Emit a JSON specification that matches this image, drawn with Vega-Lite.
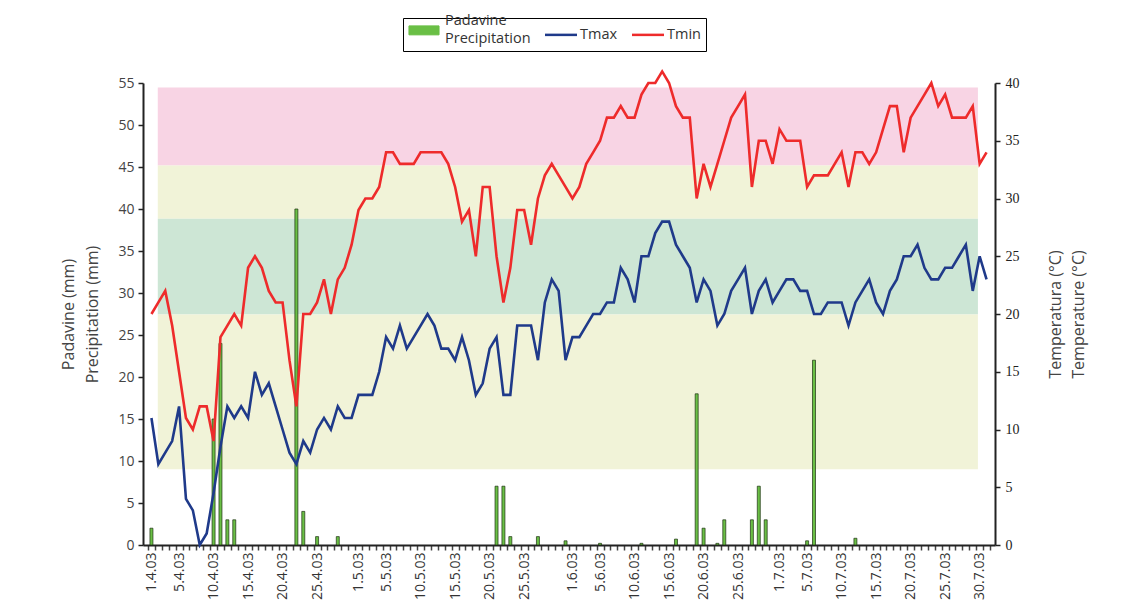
{
  "$schema": "https://vega.github.io/schema/vega-lite/v6.json",
  "width": 852,
  "height": 462,
  "autosize": "none",
  "padding": {"left": 143, "top": 83, "right": 143, "bottom": 63},
  "background": "white",
  "config": {"view": {"stroke": null}, "font": "Open Sans"},
  "datasets": {
    "bands": [
      {"d": "2003-04-02T10:00:00Z", "d2": "2003-07-30T06:00:00Z", "lo": 32.85, "hi": 39.6, "zone": "pink"},
      {"d": "2003-04-02T10:00:00Z", "d2": "2003-07-30T06:00:00Z", "lo": 28.25, "hi": 32.85, "zone": "yellow"},
      {"d": "2003-04-02T10:00:00Z", "d2": "2003-07-30T06:00:00Z", "lo": 19.95, "hi": 28.25, "zone": "green"},
      {"d": "2003-04-02T10:00:00Z", "d2": "2003-07-30T06:00:00Z", "lo": 6.55, "hi": 19.95, "zone": "yellow"}
    ],
    "days": [
      {"d": "2003-04-01T12:00:00Z", "p": 2, "Tmax": 11, "Tmin": 20},
      {"d": "2003-04-02T12:00:00Z", "p": 0, "Tmax": 7, "Tmin": 21},
      {"d": "2003-04-03T12:00:00Z", "p": 0, "Tmax": 8, "Tmin": 22},
      {"d": "2003-04-04T12:00:00Z", "p": 0, "Tmax": 9, "Tmin": 19},
      {"d": "2003-04-05T12:00:00Z", "p": 0, "Tmax": 12, "Tmin": 15},
      {"d": "2003-04-06T12:00:00Z", "p": 0, "Tmax": 4, "Tmin": 11},
      {"d": "2003-04-07T12:00:00Z", "p": 0, "Tmax": 3, "Tmin": 10},
      {"d": "2003-04-08T12:00:00Z", "p": 0, "Tmax": 0, "Tmin": 12},
      {"d": "2003-04-09T12:00:00Z", "p": 0, "Tmax": 1, "Tmin": 12},
      {"d": "2003-04-10T12:00:00Z", "p": 15, "Tmax": 4.5, "Tmin": 9},
      {"d": "2003-04-11T12:00:00Z", "p": 24, "Tmax": 8.5, "Tmin": 18},
      {"d": "2003-04-12T12:00:00Z", "p": 3, "Tmax": 12, "Tmin": 19},
      {"d": "2003-04-13T12:00:00Z", "p": 3, "Tmax": 11, "Tmin": 20},
      {"d": "2003-04-14T12:00:00Z", "p": 0, "Tmax": 12, "Tmin": 19},
      {"d": "2003-04-15T12:00:00Z", "p": 0, "Tmax": 11, "Tmin": 24},
      {"d": "2003-04-16T12:00:00Z", "p": 0, "Tmax": 15, "Tmin": 25},
      {"d": "2003-04-17T12:00:00Z", "p": 0, "Tmax": 13, "Tmin": 24},
      {"d": "2003-04-18T12:00:00Z", "p": 0, "Tmax": 14, "Tmin": 22},
      {"d": "2003-04-19T12:00:00Z", "p": 0, "Tmax": 12, "Tmin": 21},
      {"d": "2003-04-20T12:00:00Z", "p": 0, "Tmax": 10, "Tmin": 21},
      {"d": "2003-04-21T12:00:00Z", "p": 0, "Tmax": 8, "Tmin": 16},
      {"d": "2003-04-22T12:00:00Z", "p": 40, "Tmax": 7, "Tmin": 12},
      {"d": "2003-04-23T12:00:00Z", "p": 4, "Tmax": 9, "Tmin": 20},
      {"d": "2003-04-24T12:00:00Z", "p": 0, "Tmax": 8, "Tmin": 20},
      {"d": "2003-04-25T12:00:00Z", "p": 1, "Tmax": 10, "Tmin": 21},
      {"d": "2003-04-26T12:00:00Z", "p": 0, "Tmax": 11, "Tmin": 23},
      {"d": "2003-04-27T12:00:00Z", "p": 0, "Tmax": 10, "Tmin": 20},
      {"d": "2003-04-28T12:00:00Z", "p": 1, "Tmax": 12, "Tmin": 23},
      {"d": "2003-04-29T12:00:00Z", "p": 0, "Tmax": 11, "Tmin": 24},
      {"d": "2003-04-30T12:00:00Z", "p": 0, "Tmax": 11, "Tmin": 26},
      {"d": "2003-05-01T12:00:00Z", "p": 0, "Tmax": 13, "Tmin": 29},
      {"d": "2003-05-02T12:00:00Z", "p": 0, "Tmax": 13, "Tmin": 30},
      {"d": "2003-05-03T12:00:00Z", "p": 0, "Tmax": 13, "Tmin": 30},
      {"d": "2003-05-04T12:00:00Z", "p": 0, "Tmax": 15, "Tmin": 31},
      {"d": "2003-05-05T12:00:00Z", "p": 0, "Tmax": 18, "Tmin": 34},
      {"d": "2003-05-06T12:00:00Z", "p": 0, "Tmax": 17, "Tmin": 34},
      {"d": "2003-05-07T12:00:00Z", "p": 0, "Tmax": 19, "Tmin": 33},
      {"d": "2003-05-08T12:00:00Z", "p": 0, "Tmax": 17, "Tmin": 33},
      {"d": "2003-05-09T12:00:00Z", "p": 0, "Tmax": 18, "Tmin": 33},
      {"d": "2003-05-10T12:00:00Z", "p": 0, "Tmax": 19, "Tmin": 34},
      {"d": "2003-05-11T12:00:00Z", "p": 0, "Tmax": 20, "Tmin": 34},
      {"d": "2003-05-12T12:00:00Z", "p": 0, "Tmax": 19, "Tmin": 34},
      {"d": "2003-05-13T12:00:00Z", "p": 0, "Tmax": 17, "Tmin": 34},
      {"d": "2003-05-14T12:00:00Z", "p": 0, "Tmax": 17, "Tmin": 33},
      {"d": "2003-05-15T12:00:00Z", "p": 0, "Tmax": 16, "Tmin": 31},
      {"d": "2003-05-16T12:00:00Z", "p": 0, "Tmax": 18, "Tmin": 28},
      {"d": "2003-05-17T12:00:00Z", "p": 0, "Tmax": 16, "Tmin": 29},
      {"d": "2003-05-18T12:00:00Z", "p": 0, "Tmax": 13, "Tmin": 25},
      {"d": "2003-05-19T12:00:00Z", "p": 0, "Tmax": 14, "Tmin": 31},
      {"d": "2003-05-20T12:00:00Z", "p": 0, "Tmax": 17, "Tmin": 31},
      {"d": "2003-05-21T12:00:00Z", "p": 7, "Tmax": 18, "Tmin": 25},
      {"d": "2003-05-22T12:00:00Z", "p": 7, "Tmax": 13, "Tmin": 21},
      {"d": "2003-05-23T12:00:00Z", "p": 1, "Tmax": 13, "Tmin": 24},
      {"d": "2003-05-24T12:00:00Z", "p": 0, "Tmax": 19, "Tmin": 29},
      {"d": "2003-05-25T12:00:00Z", "p": 0, "Tmax": 19, "Tmin": 29},
      {"d": "2003-05-26T12:00:00Z", "p": 0, "Tmax": 19, "Tmin": 26},
      {"d": "2003-05-27T12:00:00Z", "p": 1, "Tmax": 16, "Tmin": 30},
      {"d": "2003-05-28T12:00:00Z", "p": 0, "Tmax": 21, "Tmin": 32},
      {"d": "2003-05-29T12:00:00Z", "p": 0, "Tmax": 23, "Tmin": 33},
      {"d": "2003-05-30T12:00:00Z", "p": 0, "Tmax": 22, "Tmin": 32},
      {"d": "2003-05-31T12:00:00Z", "p": 0.5, "Tmax": 16, "Tmin": 31},
      {"d": "2003-06-01T12:00:00Z", "p": 0, "Tmax": 18, "Tmin": 30},
      {"d": "2003-06-02T12:00:00Z", "p": 0, "Tmax": 18, "Tmin": 31},
      {"d": "2003-06-03T12:00:00Z", "p": 0, "Tmax": 19, "Tmin": 33},
      {"d": "2003-06-04T12:00:00Z", "p": 0, "Tmax": 20, "Tmin": 34},
      {"d": "2003-06-05T12:00:00Z", "p": 0.2, "Tmax": 20, "Tmin": 35},
      {"d": "2003-06-06T12:00:00Z", "p": 0, "Tmax": 21, "Tmin": 37},
      {"d": "2003-06-07T12:00:00Z", "p": 0, "Tmax": 21, "Tmin": 37},
      {"d": "2003-06-08T12:00:00Z", "p": 0, "Tmax": 24, "Tmin": 38},
      {"d": "2003-06-09T12:00:00Z", "p": 0, "Tmax": 23, "Tmin": 37},
      {"d": "2003-06-10T12:00:00Z", "p": 0, "Tmax": 21, "Tmin": 37},
      {"d": "2003-06-11T12:00:00Z", "p": 0.2, "Tmax": 25, "Tmin": 39},
      {"d": "2003-06-12T12:00:00Z", "p": 0, "Tmax": 25, "Tmin": 40},
      {"d": "2003-06-13T12:00:00Z", "p": 0, "Tmax": 27, "Tmin": 40},
      {"d": "2003-06-14T12:00:00Z", "p": 0, "Tmax": 28, "Tmin": 41},
      {"d": "2003-06-15T12:00:00Z", "p": 0, "Tmax": 28, "Tmin": 40},
      {"d": "2003-06-16T12:00:00Z", "p": 0.7, "Tmax": 26, "Tmin": 38},
      {"d": "2003-06-17T12:00:00Z", "p": 0, "Tmax": 25, "Tmin": 37},
      {"d": "2003-06-18T12:00:00Z", "p": 0, "Tmax": 24, "Tmin": 37},
      {"d": "2003-06-19T12:00:00Z", "p": 18, "Tmax": 21, "Tmin": 30},
      {"d": "2003-06-20T12:00:00Z", "p": 2, "Tmax": 23, "Tmin": 33},
      {"d": "2003-06-21T12:00:00Z", "p": 0, "Tmax": 22, "Tmin": 31},
      {"d": "2003-06-22T12:00:00Z", "p": 0.2, "Tmax": 19, "Tmin": 33},
      {"d": "2003-06-23T12:00:00Z", "p": 3, "Tmax": 20, "Tmin": 35},
      {"d": "2003-06-24T12:00:00Z", "p": 0, "Tmax": 22, "Tmin": 37},
      {"d": "2003-06-25T12:00:00Z", "p": 0, "Tmax": 23, "Tmin": 38},
      {"d": "2003-06-26T12:00:00Z", "p": 0, "Tmax": 24, "Tmin": 39},
      {"d": "2003-06-27T12:00:00Z", "p": 3, "Tmax": 20, "Tmin": 31},
      {"d": "2003-06-28T12:00:00Z", "p": 7, "Tmax": 22, "Tmin": 35},
      {"d": "2003-06-29T12:00:00Z", "p": 3, "Tmax": 23, "Tmin": 35},
      {"d": "2003-06-30T12:00:00Z", "p": 0, "Tmax": 21, "Tmin": 33},
      {"d": "2003-07-01T12:00:00Z", "p": 0, "Tmax": 22, "Tmin": 36},
      {"d": "2003-07-02T12:00:00Z", "p": 0, "Tmax": 23, "Tmin": 35},
      {"d": "2003-07-03T12:00:00Z", "p": 0, "Tmax": 23, "Tmin": 35},
      {"d": "2003-07-04T12:00:00Z", "p": 0, "Tmax": 22, "Tmin": 35},
      {"d": "2003-07-05T12:00:00Z", "p": 0.5, "Tmax": 22, "Tmin": 31},
      {"d": "2003-07-06T12:00:00Z", "p": 22, "Tmax": 20, "Tmin": 32},
      {"d": "2003-07-07T12:00:00Z", "p": 0, "Tmax": 20, "Tmin": 32},
      {"d": "2003-07-08T12:00:00Z", "p": 0, "Tmax": 21, "Tmin": 32},
      {"d": "2003-07-09T12:00:00Z", "p": 0, "Tmax": 21, "Tmin": 33},
      {"d": "2003-07-10T12:00:00Z", "p": 0, "Tmax": 21, "Tmin": 34},
      {"d": "2003-07-11T12:00:00Z", "p": 0, "Tmax": 19, "Tmin": 31},
      {"d": "2003-07-12T12:00:00Z", "p": 0.8, "Tmax": 21, "Tmin": 34},
      {"d": "2003-07-13T12:00:00Z", "p": 0, "Tmax": 22, "Tmin": 34},
      {"d": "2003-07-14T12:00:00Z", "p": 0, "Tmax": 23, "Tmin": 33},
      {"d": "2003-07-15T12:00:00Z", "p": 0, "Tmax": 21, "Tmin": 34},
      {"d": "2003-07-16T12:00:00Z", "p": 0, "Tmax": 20, "Tmin": 36},
      {"d": "2003-07-17T12:00:00Z", "p": 0, "Tmax": 22, "Tmin": 38},
      {"d": "2003-07-18T12:00:00Z", "p": 0, "Tmax": 23, "Tmin": 38},
      {"d": "2003-07-19T12:00:00Z", "p": 0, "Tmax": 25, "Tmin": 34},
      {"d": "2003-07-20T12:00:00Z", "p": 0, "Tmax": 25, "Tmin": 37},
      {"d": "2003-07-21T12:00:00Z", "p": 0, "Tmax": 26, "Tmin": 38},
      {"d": "2003-07-22T12:00:00Z", "p": 0, "Tmax": 24, "Tmin": 39},
      {"d": "2003-07-23T12:00:00Z", "p": 0, "Tmax": 23, "Tmin": 40},
      {"d": "2003-07-24T12:00:00Z", "p": 0, "Tmax": 23, "Tmin": 38},
      {"d": "2003-07-25T12:00:00Z", "p": 0, "Tmax": 24, "Tmin": 39},
      {"d": "2003-07-26T12:00:00Z", "p": 0, "Tmax": 24, "Tmin": 37},
      {"d": "2003-07-27T12:00:00Z", "p": 0, "Tmax": 25, "Tmin": 37},
      {"d": "2003-07-28T12:00:00Z", "p": 0, "Tmax": 26, "Tmin": 37},
      {"d": "2003-07-29T12:00:00Z", "p": 0, "Tmax": 22, "Tmin": 38},
      {"d": "2003-07-30T12:00:00Z", "p": 0, "Tmax": 25, "Tmin": 33},
      {"d": "2003-07-31T12:00:00Z", "p": 0, "Tmax": 23, "Tmin": 34}
    ]
  },
  "encoding": {
    "x": {
      "field": "d",
      "type": "temporal",
      "title": null,
      "scale": {"type": "utc", "domain": ["2003-04-01T00:00:00Z", "2003-08-01T00:00:00Z"], "nice": false},
      "axis": {
        "orient": "bottom",
        "tickCount": {"interval": "day", "step": 1},
        "labelExpr": "(indexof([1,5,10,15,20,25], utcdate(datum.value)) >= 0 && utcmonth(datum.value) < 7) || (utcmonth(datum.value) == 6 && utcdate(datum.value) == 30) ? utcdate(datum.value) + '.' + (utcmonth(datum.value) + 1) + '.03' : ''",
        "labelAngle": 270,
        "labelOffset": 3.5,
        "labelOverlap": false,
        "labelFlush": false,
        "labelPadding": 2,
        "labelFont": "Open Sans",
        "labelFontSize": 14,
        "labelColor": "#333",
        "tickSize": 5,
        "tickColor": "#444",
        "tickWidth": 1.5,
        "domainColor": "#222",
        "domainWidth": 2,
        "grid": false
      }
    }
  },
  "layer": [
    {
      "data": {"name": "bands"},
      "mark": {"type": "rect"},
      "encoding": {
        "x2": {"field": "d2"},
        "y": {"field": "lo", "type": "quantitative", "scale": {"domain": [0, 40], "nice": false}, "axis": null},
        "y2": {"field": "hi"},
        "fill": {"field": "zone", "type": "nominal", "scale": {"domain": ["pink", "yellow", "green"], "range": ["#f8d4e4", "#f1f3d8", "#cde6d5"]}, "legend": null}
      }
    },
    {
      "data": {"name": "days"},
      "transform": [{"filter": "datum.p > 0"}],
      "mark": {"type": "bar", "width": 3, "stroke": "#1c3011", "strokeWidth": 0.7},
      "encoding": {
        "y": {
          "field": "p",
          "type": "quantitative",
          "scale": {"domain": [0, 55], "nice": false},
          "axis": {
            "orient": "left",
            "values": [0, 5, 10, 15, 20, 25, 30, 35, 40, 45, 50, 55],
            "title": ["Padavine (mm)", "Precipitation (mm)"],
            "titleFont": "Open Sans",
            "titleFontSize": 16,
            "titleFontWeight": "normal",
            "titleColor": "#444",
            "titleLineHeight": 24,
            "titlePadding": 17,
            "labelFont": "Open Sans",
            "labelFontSize": 14,
            "labelColor": "#444",
            "labelPadding": 4,
            "tickSize": 5,
            "tickColor": "#222",
            "tickWidth": 1.5,
            "domainColor": "#222",
            "domainWidth": 2,
            "grid": false
          }
        },
        "color": {
          "datum": "Padavine Precipitation",
          "type": "nominal",
          "title": null,
          "scale": {"domain": ["Padavine Precipitation", "Tmax", "Tmin"], "range": ["#6abf45", "#1f3a8a", "#ee2b2b"]},
          "legend": {
            "orient": "none",
            "legendX": 260,
            "legendY": -65,
            "direction": "horizontal",
            "title": null,
            "strokeColor": "#000",
            "padding": 5,
            "labelFont": "Open Sans",
            "labelFontSize": 14.5,
            "labelColor": "#333",
            "columnPadding": 9,
            "labelExpr": "datum.label == 'Padavine Precipitation' ? ['Padavine', 'Precipitation'] : datum.label",
            "encode": {
              "symbols": {
                "update": {
                  "shape": {"signal": "datum.value == 'Padavine Precipitation' ? 'M-0.94,-0.28L0.94,-0.28L0.94,0.28L-0.94,0.28Z' : 'M-1,0L1,0'"},
                  "size": {"value": 1024},
                  "x": {"signal": "datum.value == 'Padavine Precipitation' ? 16 : 7"},
                  "fill": {"signal": "datum.value == 'Padavine Precipitation' ? '#6abf45' : 'transparent'"},
                  "stroke": {"signal": "datum.value == 'Padavine Precipitation' ? '#1c3011' : (datum.value == 'Tmax' ? '#1f3a8a' : '#ee2b2b')"},
                  "strokeWidth": {"signal": "datum.value == 'Padavine Precipitation' ? 1 : 2.5"},
                  "opacity": {"value": 1}
                }
              },
              "labels": {
                "update": {
                  "x": {"signal": "datum.value == 'Padavine Precipitation' ? 37 : 26"},
                  "lineHeight": {"value": 18},
                  "dy": {"signal": "datum.value == 'Padavine Precipitation' ? -9 : 0"}
                }
              }
            }
          }
        }
      }
    },
    {
      "data": {"name": "days"},
      "transform": [{"fold": ["Tmax", "Tmin"], "as": ["series", "temp"]}],
      "mark": {"type": "line", "strokeWidth": 2.6},
      "encoding": {
        "y": {
          "field": "temp",
          "type": "quantitative",
          "scale": {"domain": [0, 40], "nice": false},
          "axis": {
            "orient": "right",
            "values": [0, 5, 10, 15, 20, 25, 30, 35, 40],
            "title": ["Temperatura (°C)", "Temperature (°C)"],
            "titleAngle": 270,
            "titleBaseline": "top",
            "titleFont": "Open Sans",
            "titleFontSize": 16,
            "titleFontWeight": "normal",
            "titleColor": "#444",
            "titleLineHeight": 23,
            "titlePadding": 5,
            "labelFont": "Liberation Serif",
            "labelFontSize": 14,
            "labelColor": "#222",
            "labelPadding": 5,
            "tickSize": 5,
            "tickColor": "#222",
            "tickWidth": 1.5,
            "domainColor": "#222",
            "domainWidth": 2,
            "grid": false
          }
        },
        "color": {
          "field": "series",
          "type": "nominal",
          "title": null,
          "legend": {
            "orient": "none",
            "legendX": 260,
            "legendY": -65,
            "direction": "horizontal",
            "title": null,
            "strokeColor": "#000",
            "padding": 5,
            "labelFont": "Open Sans",
            "labelFontSize": 14.5,
            "labelColor": "#333",
            "columnPadding": 9,
            "labelExpr": "datum.label == 'Padavine Precipitation' ? ['Padavine', 'Precipitation'] : datum.label",
            "encode": {
              "symbols": {
                "update": {
                  "shape": {"signal": "datum.value == 'Padavine Precipitation' ? 'M-0.94,-0.28L0.94,-0.28L0.94,0.28L-0.94,0.28Z' : 'M-1,0L1,0'"},
                  "size": {"value": 1024},
                  "x": {"signal": "datum.value == 'Padavine Precipitation' ? 16 : 7"},
                  "fill": {"signal": "datum.value == 'Padavine Precipitation' ? '#6abf45' : 'transparent'"},
                  "stroke": {"signal": "datum.value == 'Padavine Precipitation' ? '#1c3011' : (datum.value == 'Tmax' ? '#1f3a8a' : '#ee2b2b')"},
                  "strokeWidth": {"signal": "datum.value == 'Padavine Precipitation' ? 1 : 2.5"},
                  "opacity": {"value": 1}
                }
              },
              "labels": {
                "update": {
                  "x": {"signal": "datum.value == 'Padavine Precipitation' ? 37 : 26"},
                  "lineHeight": {"value": 18},
                  "dy": {"signal": "datum.value == 'Padavine Precipitation' ? -9 : 0"}
                }
              }
            }
          }
        }
      }
    }
  ],
  "resolve": {"scale": {"y": "independent"}, "axis": {"y": "independent"}}
}
